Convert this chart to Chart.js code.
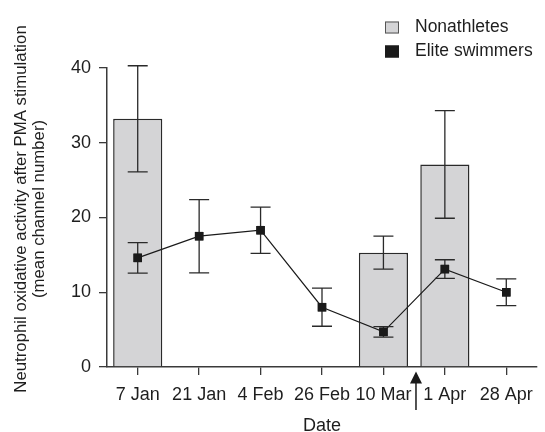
<!DOCTYPE html>
<html>
<head>
<meta charset="utf-8">
<script src="https://cdn.jsdelivr.net/npm/chart.js@4.4.0/dist/chart.umd.min.js"></script>
<style>
html,body{margin:0;padding:0;background:#fff;}
#wrap{width:545px;height:432px;position:relative;}
</style>
</head>
<body>
<div id="wrap"><canvas id="c" width="545" height="432"></canvas></div>
<script>
// ---- data ----
const categories = ['7 Jan', '21 Jan', '4 Feb', '26 Feb', '10 Mar', '1 Apr', '28 Apr'];
const nonathletes = [33.2, null, null, null, 15.3, 27.1, null];
const nonathletesSD = [7.1, null, null, null, 2.2, 7.2, null];
const swimmers = [14.6, 17.5, 18.3, 8.0, 4.7, 13.1, 10.0];
const swimmersSD = [2.05, 4.9, 3.1, 2.55, 0.7, 1.25, 1.8];
const yTicks = [0, 10, 20, 30, 40];
const yTitle = ['Neutrophil oxidative activity after PMA stimulation', '(mean channel number)'];
const xTitle = 'Date';
const arrowAt = 4.53; // category position of the arrow marker (between 10 Mar and 1 Apr)

const FONT = '"Liberation Sans", Arial, Helvetica, sans-serif';
const FS = 18;
const TXT = '#1e1e1e';
const AX = '#3a3a3a';
const BARFILL = '#d4d4d6';

const errorBars = {
  id: 'errorBars',
  afterDatasetsDraw(chart) {
    const ctx = chart.ctx;
    const y = chart.scales.y;
    const sets = [[0, swimmersSD], [1, nonathletesSD]];
    ctx.save();
    ctx.strokeStyle = '#2a2a2a';
    ctx.lineWidth = 1.3;
    sets.forEach(([di, sd]) => {
      const meta = chart.getDatasetMeta(di);
      const data = chart.data.datasets[di].data;
      meta.data.forEach((el, i) => {
        const v = data[i];
        if (v === null || sd[i] === null) return;
        const x = el.x;
        const top = y.getPixelForValue(v + sd[i]);
        const bot = y.getPixelForValue(v - sd[i]);
        const hw = 10;
        ctx.beginPath();
        ctx.moveTo(x, top); ctx.lineTo(x, bot);
        ctx.moveTo(x - hw, top); ctx.lineTo(x + hw, top);
        ctx.moveTo(x - hw, bot); ctx.lineTo(x + hw, bot);
        ctx.stroke();
      });
    });
    // re-draw markers on top
    const lm = chart.getDatasetMeta(0);
    lm.data.forEach(p => p.draw(ctx, chart.chartArea));
    ctx.restore();
  }
};

const decorations = {
  id: 'decorations',
  afterDraw(chart) {
    const ctx = chart.ctx;
    const area = chart.chartArea;
    const xs = chart.scales.x;
    ctx.save();
    ctx.fillStyle = TXT;
    // y title (two lines, rotated)
    ctx.save();
    ctx.font = '16.8px ' + FONT;
    ctx.translate(21, 209);
    ctx.rotate(-Math.PI / 2);
    ctx.textAlign = 'center';
    ctx.textBaseline = 'middle';
    ctx.fillText(yTitle[0], 0, 0);
    ctx.fillText(yTitle[1], 0, 18);
    ctx.restore();
    // x title
    ctx.font = FS + 'px ' + FONT;
    ctx.textAlign = 'center';
    ctx.textBaseline = 'middle';
    ctx.fillText(xTitle, (area.left + area.right) / 2, 426);
    // legend
    ctx.font = '17.5px ' + FONT;
    const ds = chart.data.datasets;
    const items = [
      {label: ds[1].label, fill: BARFILL, stroke: '#555', y: 27.5},
      {label: ds[0].label, fill: '#1a1a1a', stroke: '#1a1a1a', y: 51.5}
    ];
    ctx.textAlign = 'left';
    items.forEach(it => {
      ctx.fillStyle = it.fill;
      ctx.fillRect(385, it.y - 6, 14, 12);
      ctx.strokeStyle = it.stroke;
      ctx.lineWidth = 1;
      ctx.strokeRect(385.5, it.y - 5.5, 13, 11);
      ctx.fillStyle = TXT;
      ctx.fillText(it.label, 415, it.y);
    });
    // arrow
    const ax = xs.getPixelForValue(arrowAt);
    ctx.strokeStyle = '#1a1a1a';
    ctx.fillStyle = '#1a1a1a';
    ctx.lineWidth = 1.5;
    ctx.beginPath();
    ctx.moveTo(ax, 380); ctx.lineTo(ax, 410);
    ctx.stroke();
    ctx.beginPath();
    ctx.moveTo(ax, 371.5); ctx.lineTo(ax - 6, 383.5); ctx.lineTo(ax + 6, 383.5); ctx.closePath();
    ctx.fill();
    ctx.restore();
  }
};

new Chart(document.getElementById('c'), {
  data: {
    labels: categories,
    datasets: [
      {
        type: 'line',
        label: 'Elite swimmers',
        data: swimmers,
        borderColor: '#1a1a1a',
        borderWidth: 1.2,
        backgroundColor: '#1a1a1a',
        pointStyle: 'rect',
        pointRadius: 6,
        pointBorderWidth: 0,
        pointBackgroundColor: '#1a1a1a',
        tension: 0,
        order: 0
      },
      {
        type: 'bar',
        label: 'Nonathletes',
        data: nonathletes,
        backgroundColor: BARFILL,
        borderColor: '#2a2a2a',
        borderWidth: 1.5,
        barPercentage: 0.8,
        categoryPercentage: 1.0,
        order: 1
      }
    ]
  },
  options: {
    responsive: false,
    animation: false,
    events: [],
    layout: {padding: {left: 0, right: 8, top: 68, bottom: 0}},
    plugins: {legend: {display: false}, tooltip: {enabled: false}, title: {display: false}},
    scales: {
      x: {
        type: 'category',
        offset: true,
        grid: {display: true, drawOnChartArea: false, drawTicks: true, tickLength: 8, offset: false, color: AX, lineWidth: 1.3},
        border: {display: true, color: AX, width: 1.5},
        ticks: {color: TXT, font: {family: FONT, size: FS}, padding: 9, maxRotation: 0, autoSkip: false},
        afterFit(s) { s.height = 65; }
      },
      y: {
        min: 0, max: 40,
        afterBuildTicks(s) { s.ticks = yTicks.map(v => ({value: v})); },
        grid: {display: true, drawOnChartArea: false, drawTicks: true, tickLength: 8, color: AX, lineWidth: 1.3},
        border: {display: true, color: AX, width: 1.5},
        ticks: {color: TXT, font: {family: FONT, size: FS}, padding: 8},
        afterFit(s) { s.width = 107; }
      }
    }
  },
  plugins: [errorBars, decorations]
});
</script>
</body>
</html>
